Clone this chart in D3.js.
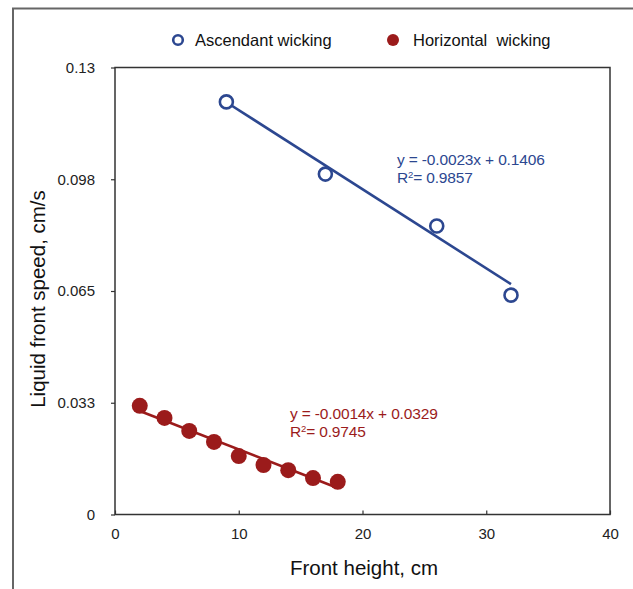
<script src="https://cdn.jsdelivr.net/npm/d3@7"></script>
<body style="margin: 0; background: white;">
<svg id="vis"></svg>
<script>

  /***** DATA *****/
  var ascX = [9, 17, 26, 32]
  var ascY = [0.120, 0.0990, 0.0839, 0.0638]
  var horX = [2, 4, 6, 8, 10, 12, 14, 16, 18]
  var horY = [0.0316, 0.0281, 0.0243, 0.0211, 0.0170, 0.0144, 0.0129, 0.0106, 0.0095]

  // trend line coefficients (slope, intercept) as printed on the chart
  var ascFit = [-0.0023, 0.1406]
  var horFit = [-0.0014, 0.0329]

  var xTicks = [0, 10, 20, 30, 40]
  var yTicks = [0, 0.0325, 0.065, 0.0975, 0.13]
  var yTickLabels = ['0', '0.033', '0.065', '0.098', '0.13']

  var seriesNames = ['Ascendant wicking', 'Horizontal\u00a0 wicking']

  /***** SETUP *****/
  var width = 633
  var height = 589
  var blue = '#2c4790'
  var red = '#9b1b1b'
  var font = '"Liberation Sans", Arial, sans-serif'

  var svg = d3.select('#vis')
    .attr('width', width)
    .attr('height', height)
    .style('display', 'block')

  var x = d3.scaleLinear().domain([0, 40]).range([115, 610])
  var y = d3.scaleLinear().domain([0, 0.13]).range([514.5, 67.5])

  // outer frame (top + left only)
  svg.append('line')
    .attr('x1', 12).attr('y1', 8.5).attr('x2', width).attr('y2', 8.5)
    .style('stroke', '#666').style('stroke-width', 2)
  svg.append('line')
    .attr('x1', 13).attr('y1', 8).attr('x2', 13).attr('y2', height)
    .style('stroke', '#666').style('stroke-width', 2)

  // plot box
  svg.append('rect')
    .attr('x', x(0)).attr('y', y(0.13))
    .attr('width', x(40) - x(0)).attr('height', y(0) - y(0.13))
    .attr('fill', 'none')
    .style('stroke', '#333').style('stroke-width', 1.5)

  /***** AXES *****/
  var xAxis = svg.append('g')
    .attr('transform', 'translate(0,' + y(0) + ')')
    .call(d3.axisBottom(x).tickValues(xTicks).tickSizeInner(-4).tickSizeOuter(0).tickPadding(14))
  xAxis.select('.domain').remove()

  var yAxis = svg.append('g')
    .attr('transform', 'translate(' + x(0) + ',0)')
    .call(d3.axisLeft(y).tickValues(yTicks).tickSizeInner(4).tickSizeOuter(0).tickPadding(16)
      .tickFormat(function(d, i) { return yTickLabels[i] }))
  yAxis.select('.domain').remove()

  svg.selectAll('.tick line').style('stroke', '#333').style('stroke-width', 1.2)
  svg.selectAll('.tick text')
    .style('font-family', font)
    .style('font-size', '15px')
    .style('fill', '#222')

  // axis titles
  svg.append('text')
    .text('Front height, cm')
    .attr('x', 364).attr('y', 575)
    .attr('text-anchor', 'middle')
    .style('font-family', font).style('font-size', '20.5px').style('fill', '#111')

  svg.append('text')
    .text('Liquid front speed, cm/s')
    .attr('transform', 'translate(45,299) rotate(-90)')
    .attr('text-anchor', 'middle')
    .style('font-family', font).style('font-size', '20.5px').style('fill', '#111')

  /***** TREND LINES *****/
  function fitLine(fit, x0, x1, color) {
    svg.append('line')
      .attr('x1', x(x0)).attr('y1', y(fit[0] * x0 + fit[1]))
      .attr('x2', x(x1)).attr('y2', y(fit[0] * x1 + fit[1]))
      .style('stroke', color).style('stroke-width', 2.6)
  }
  fitLine(ascFit, d3.min(ascX), d3.max(ascX), blue)
  fitLine(horFit, d3.min(horX), d3.max(horX), red)

  /***** POINTS *****/
  svg.selectAll('circle.asc')
    .data(ascX)
    .enter()
    .append('circle')
    .attr('class', 'asc')
    .attr('cx', function(d) { return x(d) })
    .attr('cy', function(d, i) { return y(ascY[i]) })
    .attr('r', 6.5)
    .attr('fill', 'white')
    .style('stroke', blue).style('stroke-width', 2.6)

  svg.selectAll('circle.hor')
    .data(horX)
    .enter()
    .append('circle')
    .attr('class', 'hor')
    .attr('cx', function(d) { return x(d) })
    .attr('cy', function(d, i) { return y(horY[i]) })
    .attr('r', 8)
    .attr('fill', red)

  /***** EQUATIONS *****/
  function fmt(v) { return v.toFixed(4) }
  function equation(fit, r2, px, py, color) {
    var g = svg.append('g')
      .style('font-family', font).style('font-size', '15.5px').style('fill', color)
      .style('letter-spacing', '-0.15px')
    g.append('text').attr('x', px).attr('y', py)
      .text('y = ' + fmt(fit[0]) + 'x + ' + fmt(fit[1]))
    var t = g.append('text').attr('x', px).attr('y', py + 18)
    t.append('tspan').text('R')
    t.append('tspan').text('2').attr('dy', -5).style('font-size', '9.5px')
    t.append('tspan').text('= ' + r2).attr('dy', 5)
  }
  equation(ascFit, '0.9857', 397, 165, blue)
  equation(horFit, '0.9745', 290, 419, red)

  /***** LEGEND *****/
  svg.append('circle')
    .attr('cx', 178).attr('cy', 40).attr('r', 4.8)
    .attr('fill', 'white')
    .style('stroke', blue).style('stroke-width', 2.6)
  svg.append('circle')
    .attr('cx', 393).attr('cy', 40).attr('r', 6)
    .attr('fill', red)

  svg.append('text').text(seriesNames[0])
    .attr('x', 195).attr('y', 46)
    .style('font-family', font).style('font-size', '16.5px').style('fill', '#111')
  svg.append('text').text(seriesNames[1])
    .attr('x', 413).attr('y', 46)
    .style('font-family', font).style('font-size', '16.5px').style('fill', '#111')

</script>
</body>
